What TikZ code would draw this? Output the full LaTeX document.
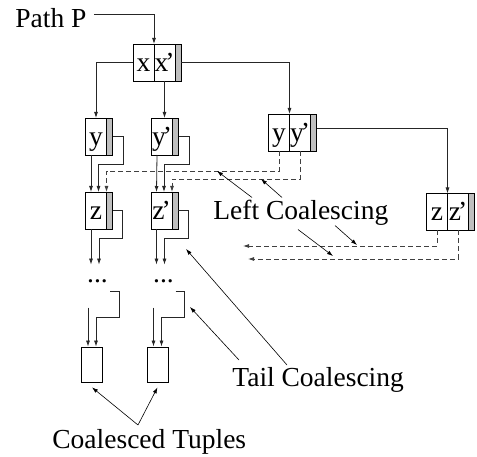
\documentclass[tikz,border=0pt]{standalone}
\usepackage{fontspec}
\setmainfont{Liberation Serif}
\usetikzlibrary{arrows.meta,positioning}
\newcommand{\pr}[1]{#1\kern-3pt'}

\begin{document}
\begin{tikzpicture}[x=1pt, y=-1pt,
  font=\fontsize{27.5}{33}\selectfont,
  line width=0.8pt,
  >={Latex[length=6pt,width=4pt]},
  cell/.style={draw, inner sep=0pt, outer sep=0pt, minimum width=21pt, text height=27.5pt, text depth=9.5pt},
  strip/.style={draw, fill=gray!50, inner sep=0pt, outer sep=0pt, minimum width=6pt, minimum height=37pt},
  tuple/.style={draw, inner sep=0pt, minimum width=21pt, minimum height=35pt},
  link/.style={->, black!85},
  coal/.style={->, dash pattern=on 5pt off 3pt, black!75},
  pointer/.style={->, line width=0.6pt},
  dots/.style={inner sep=0pt, text height=18pt, anchor=base},
  lbl/.style={inner sep=0pt, anchor=base west}
]
  \useasboundingbox (0,0) rectangle (477,457);

  % tuples of the path
  \node[lbl] (pp) at (15,28) {Path P};
  \node[cell] (x) at (143.5,62.5) {x};
  \node[cell, right=0pt of x] (xp) {\pr{x}};
  \node[strip, right=0pt of xp] (xg) {};
  \node[cell] (y) at (96,136.5) {y};
  \node[strip, right=0pt of y] (yg) {};
  \node[cell] (yp) at (162,136.5) {\pr{y}};
  \node[strip, right=0pt of yp] (ypg) {};
  \node[cell] (yy) at (279,132.5) {y};
  \node[cell, right=0pt of yy] (yyp) {\pr{y}};
  \node[strip, right=0pt of yyp] (yyg) {};
  \node[cell] (z) at (96,210.5) {z};
  \node[strip, right=0pt of z] (zg) {};
  \node[cell] (zp) at (161.5,210.5) {\pr{z}};
  \node[strip, right=0pt of zp] (zpg) {};
  \node[cell] (zz) at (437,212) {z};
  \node[cell, right=0pt of zz] (zzp) {\pr{z}};
  \node[strip, right=0pt of zzp] (zzg) {};
  \node[dots] (d1) at (97.5,283) {...};
  \node[dots] (d2) at (163.5,283) {...};
  \node[tuple] (c1) at (92,364.5) {};
  \node[tuple] (c2) at (157.5,364.5) {};

  % labels
  \node[lbl] (lc) at (213,219.5) {Left Coalescing};
  \node[lbl] (tc) at (232,386) {Tail Coalescing};
  \node[lbl] (ct) at (52,448) {Coalesced Tuples};

  \coordinate (l1) at (243,246);
  \coordinate (l2) at (248,259);
  \coordinate (a1) at (217,171);
  \coordinate (a2) at (261,179);
  \coordinate (a3) at (357,245);
  \coordinate (a4) at (333,256);
  \coordinate (t1) at (190,307);
  \coordinate (t2) at (186,249);

  % tree links
  \draw[link] ([shift={(7,-14)}]pp.base east) -| (x.north east);
  \draw[link] (x.west) -| (y.north);
  \draw[link] (xp.south) -- (xp.south |- yp.north);
  \draw[link] (xg.east) -| (yy.north east);
  \draw[link] ([yshift=4pt]yyg.east) -| (zz.north east);

  \foreach \a/\g/\b in {y/yg/z, yp/ypg/zp} {
    \draw[link] ([xshift=-5pt]\a.south) -- ([xshift=-5pt]\b.north);
    \draw[link] (\g.east) -| ++(11,28) -| ([xshift=2.5pt]\b.north);
  }
  \foreach \a/\g/\b in {z/zg/d1, zp/zpg/d2} {
    \draw[link] ([xshift=-5pt]\a.south) -- ([xshift=-5pt]\a.south |- \b.north);
    \draw[link] (\g.east) -| ++(10,28) -| ([xshift=3pt]\a.south |- \b.north);
  }
  \foreach \c in {c1, c2} {
    \draw[link] ([shift={(-4,-39)}]\c.north) -- ([xshift=-4pt]\c.north);
    \draw[link] ([shift={(18,-55)}]\c.north) -| ++(9,26) -| ([xshift=4pt]\c.north);
  }

  % left coalescing
  \draw[coal] (yy.south) |- ([yshift=21pt]z.north east) -- (z.north east);
  \draw[coal] (yyp.south) |- ([yshift=13pt]zp.north east) -- (zp.north east);
  \draw[coal] (zz.south) |- (l1);
  \draw[coal] (zzp.south) |- (l2);

  % label pointers
  \draw[pointer] ([shift={(39,-22)}]lc.base west) -- (a1);
  \draw[pointer] ([shift={(69,-22)}]lc.base west) -- (a2);
  \draw[pointer] ([shift={(122,6)}]lc.base west) -- (a3);
  \draw[pointer] ([shift={(85,10)}]lc.base west) -- (a4);
  \draw[pointer] ([shift={(7,-26)}]tc.base west) -- (t1);
  \draw[pointer] ([shift={(55,-21)}]tc.base west) -- (t2);
  \draw[pointer] ([shift={(86,-23)}]ct.base west) -- ([yshift=-5pt]c1.south);
  \draw[pointer] ([shift={(86,-23)}]ct.base west) -- ([yshift=-5pt]c2.south);
\end{tikzpicture}
\end{document}
